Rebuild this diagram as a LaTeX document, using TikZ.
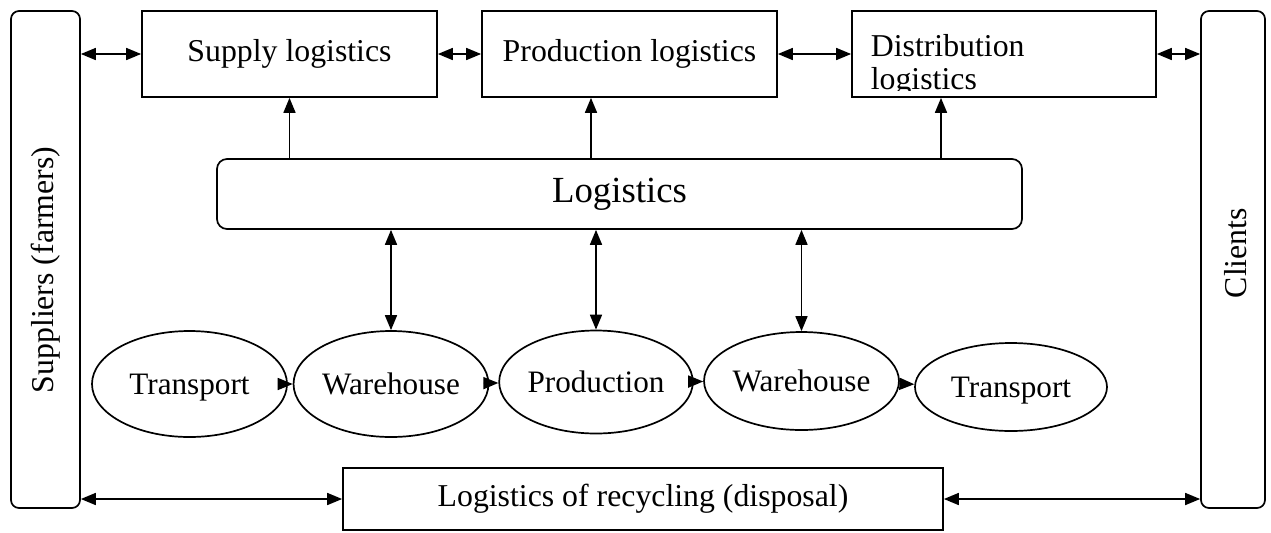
\documentclass[tikz,border=0pt]{standalone}
\usepackage{fontspec}
\setmainfont{Liberation Serif}
\usetikzlibrary{arrows.meta,shapes.geometric}

\begin{document}
\begin{tikzpicture}[x=0.5pt,y=-0.5pt,line width=0.85pt,>={Triangle[length=7.5pt,width=6pt]}]
\tikzstyle{box} = [rectangle, draw=black, inner sep=0pt, minimum height=43pt, font=\fontsize{15.9}{18}\selectfont]
\tikzstyle{side} = [rectangle, rounded corners=4pt, draw=black, inner sep=0pt, minimum width=33pt, minimum height=248.5pt]
\tikzstyle{oval} = [ellipse, draw=black, inner sep=0pt, text depth=0pt, font=\fontsize{15.6}{18}\selectfont]
\useasboundingbox (0,0) rectangle (1271,532);

\node (Sup) [side, minimum width=34.5pt] at (45.5,259.5) {};
\node (SupT) [rotate=90, font=\fontsize{15.9}{18}\selectfont] at (46,270) {Suppliers (farmers)};
\node (Cl) [side, minimum width=32pt] at (1233,259.5) {};
\node (ClT) [rotate=90, font=\fontsize{15.9}{18}\selectfont] at (1236,253) {Clients};

\node (S) [box, minimum width=147.5pt] at (289.5,54) {Supply logistics};
\node (P) [box, minimum width=147.5pt] at (629.5,54) {Production logistics};
\node (D) [box, minimum width=152pt] at (1004,54) {};
\begin{scope}
\clip (D.north west) rectangle (D.east |- 0,90);
\node (D1) [anchor=base west, inner sep=0pt, font=\fontsize{15.9}{18}\selectfont] at (870,56) {Distribution};
\node (D2) [anchor=base west, inner sep=0pt, font=\fontsize{15.9}{18}\selectfont] at (870,89) {logistics};
\end{scope}

\node (L) [rectangle, rounded corners=5pt, draw=black, inner sep=0pt, minimum width=402.5pt, minimum height=35pt, font=\fontsize{18.4}{22}\selectfont] at (619.5,194) {Logistics};

\node (T1) [oval, minimum width=97.5pt, minimum height=53pt] at (189.5,384) {Transport};
\node (W1) [oval, minimum width=93pt, minimum height=53pt] at (391,384) {Warehouse};
\node (Pr) [oval, minimum width=95pt, minimum height=51.5pt] at (596,382) {Production};
\node (W2) [oval, minimum width=94.5pt, minimum height=49pt] at (801.5,381) {Warehouse};
\node (T2) [oval, minimum width=96pt, minimum height=44pt] at (1011,387) {Transport};

\node (R) [box, minimum width=300pt, minimum height=31pt] at (643,499) {Logistics of recycling (disposal)};

\coordinate (x2) at (591,0);
\coordinate (x3) at (941,0);
\draw[->] (L.north -| S) -- (S.south);
\draw[->] (L.north -| x2) -- (P.south -| x2);
\draw[->] (L.north -| x3) -- (D.south -| x3);

\draw[<->] (L.south -| W1) -- (W1.north);
\draw[<->] (L.south -| Pr) -- (Pr.north);
\draw[<->] (L.south -| W2) -- (W2.north);

\draw[->] (T1) -- (W1);
\draw[->] (W1) -- (Pr);
\draw[->] (Pr) -- (W2);
\draw[->] (W2) -- (T2);

\draw[<->] (Sup.east |- S) -- (S.west);
\draw[<->] (S.east) -- (P.west);
\draw[<->] (P.east) -- (D.west);
\draw[<->] (D.east) -- (Cl.west |- D);
\draw[<->] (Sup.east |- R) -- (R.west);
\draw[<->] (R.east) -- (Cl.west |- R);
\end{tikzpicture}
\end{document}
